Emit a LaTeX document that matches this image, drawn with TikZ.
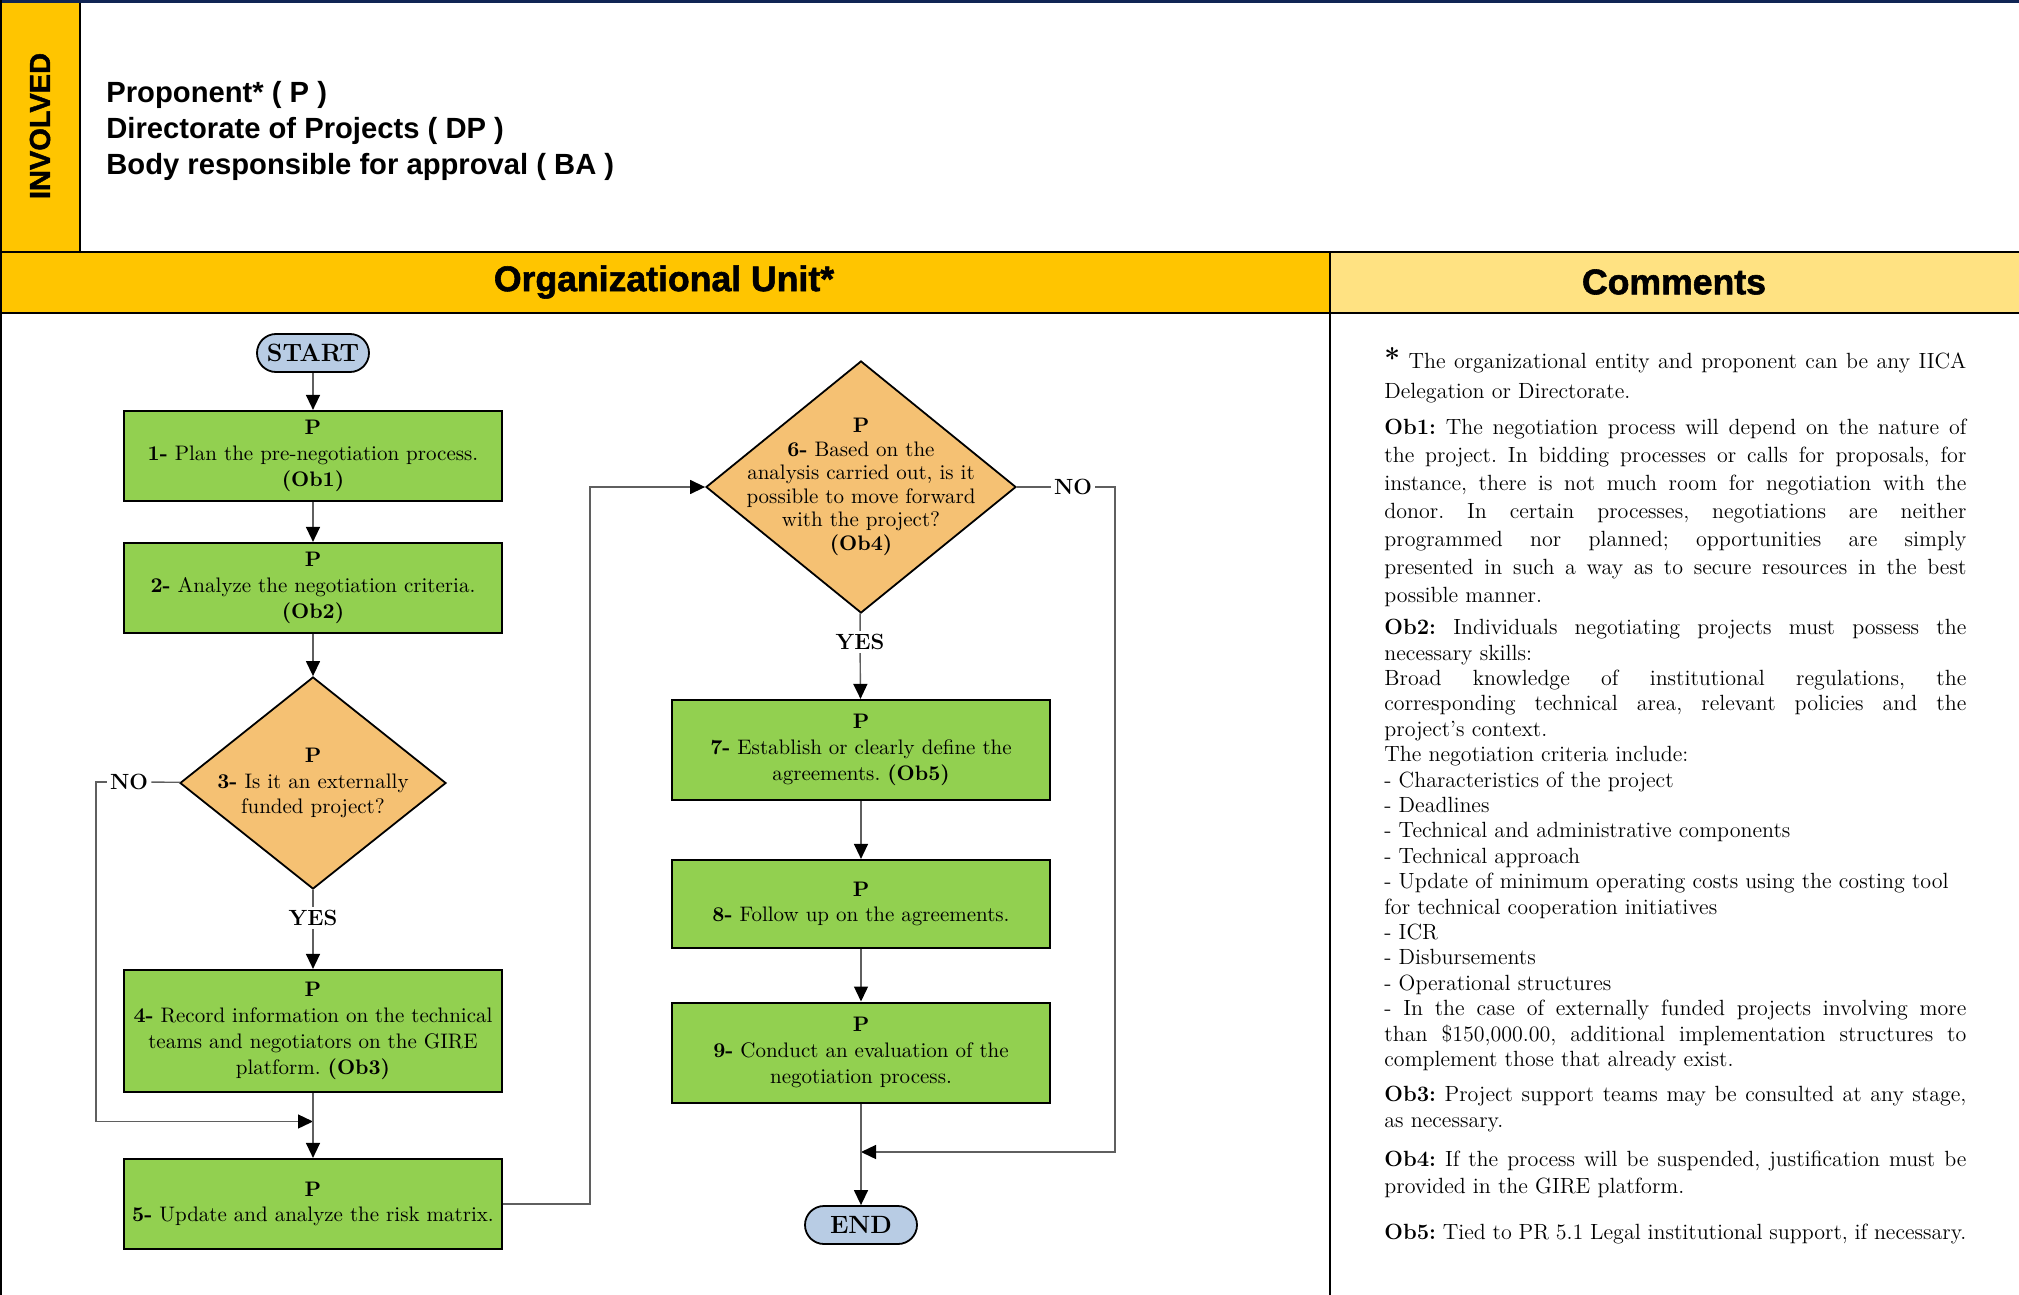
\documentclass[tikz,border=0pt]{standalone}
\usepackage{fontspec}
\newfontfamily\arialfont{Liberation Sans}
\newfontfamily\blackfont{Liberation Sans Bold}[FakeBold=1.6]
\usepackage{xcolor}
\usepackage{tikz}
\usetikzlibrary{arrows.meta}
\usetikzlibrary{shapes.geometric}

\definecolor{boxgreen}{RGB}{146,208,80}
\definecolor{decorange}{RGB}{245,193,115}
\definecolor{termblue}{RGB}{184,204,228}
\definecolor{goldhead}{RGB}{255,197,0}
\definecolor{paleyellow}{RGB}{255,226,130}
\definecolor{navyline}{RGB}{16,37,84}
\definecolor{flowgray}{RGB}{95,95,95}

\newcommand{\boxfont}{\fontsize{10.5}{12.9}\selectfont}
\newcommand{\notefont}[1]{\fontsize{11}{#1}\selectfont}
\frenchspacing

\begin{document}
\begin{tikzpicture}[x=0.5pt,y=-0.5pt,
    stepbox/.style={draw, line width=1.1pt, fill=boxgreen, minimum width=189pt, align=center, font=\boxfont, inner sep=2pt},
    decision/.style={diamond, draw, line width=0.9pt, fill=decorange, inner sep=0pt},
    terminal/.style={draw, line width=0.9pt, fill=termblue, rounded corners=9.5pt, minimum width=56pt, minimum height=19pt, inner sep=0pt, font=\fontsize{12.5}{14}\selectfont\bfseries},
    answer/.style={font=\fontsize{11}{13}\selectfont\bfseries, inner sep=1.5pt},
    link/.style={draw=flowgray, line width=0.7pt},
    flow/.style={link, -{Triangle[length=7.5pt,width=7pt,color=black]}},
    frame/.style={line width=1.1pt},
    note/.style={anchor=north west, inner sep=0pt, text width=291pt, align=justify}]
    \useasboundingbox (0,0) rectangle (2019,1295);

    % header bands
    \fill[goldhead] (0,0) rectangle (80,252);
    \fill[goldhead] (0,252) rectangle (1330,313);
    \fill[paleyellow] (1330,252) rectangle (2019,313);
    \draw[navyline, line width=1.5pt] (0,1.5) -- (2019,1.5);
    \draw[frame] (1,0) -- (1,1295);
    \draw[frame] (80,3) -- (80,252);
    \draw[frame] (0,252) -- (2019,252);
    \draw[frame] (0,313) -- (2019,313);
    \draw[frame] (1330,252) -- (1330,1295);

    \node[rotate=90, font=\blackfont\fontsize{14.5}{16}\selectfont] (involved) at (40,126) {INVOLVED};
    \node[anchor=west, align=left, inner sep=0pt, font=\arialfont\fontsize{14.6}{18}\selectfont\bfseries] (actors) at (106,131)
        {Proponent* ( P )\\Directorate of Projects ( DP )\\Body responsible for approval ( BA )};
    \node[font=\blackfont\fontsize{17.8}{20}\selectfont] (orgunit) at (664,282) {Organizational Unit*};
    \node[font=\blackfont\fontsize{17.8}{20}\selectfont] (comments) at (1674,282) {Comments};

    % left column
    \node[terminal] (start) at (313,353) {START};
    \node[stepbox, minimum height=45pt] (b1) at (313,456) {\textbf{P}\\\textbf{1-} Plan the pre-negotiation process.\\\textbf{(Ob1)}};
    \node[stepbox, minimum height=45pt] (b2) at (313,588) {\textbf{P}\\\textbf{2-} Analyze the negotiation criteria.\\\textbf{(Ob2)}};
    \node[decision, minimum width=133pt, minimum height=106pt,
        label={[font=\boxfont, align=center]center:{\textbf{P}\\\textbf{3-} Is it an externally\\funded project?}}] (d3) at (313,783) {};
    \node[answer] (yes3) at (313,918) {YES};
    \node[answer] (no3) at (129,782) {NO};
    \node[stepbox, minimum height=61pt] (b4) at (313,1031) {\textbf{P}\\\textbf{4-} Record information on the technical\\teams and negotiators on the GIRE\\platform. \textbf{(Ob3)}};
    \node[stepbox, minimum height=45pt] (b5) at (313,1204) {\textbf{P}\\\textbf{5-} Update and analyze the risk matrix.};
    \coordinate (c1) at (96,1121.5);
    \coordinate (m1) at (313,1121.5);
    \coordinate (c2) at (590,487);

    % right column
    \node[decision, minimum width=155pt, minimum height=126pt,
        label={[font=\fontsize{10.5}{11.8}\selectfont, align=center]center:{\textbf{P}\\\textbf{6-} Based on the\\analysis carried out, is it\\possible to move forward\\with the project?\\\textbf{(Ob4)}}}] (d6) at (861,487) {};
    \node[answer] (no6) at (1073,487) {NO};
    \node[answer] (yes6) at (860,642) {YES};
    \node[stepbox, minimum height=50pt] (b7) at (861,750) {\textbf{P}\\\textbf{7-} Establish or clearly define the\\agreements. \textbf{(Ob5)}};
    \node[stepbox, minimum height=44pt] (b8) at (861,904) {\textbf{P}\\\textbf{8-} Follow up on the agreements.};
    \node[stepbox, minimum height=50pt] (b9) at (861,1052.6) {\textbf{P}\\\textbf{9-} Conduct an evaluation of the\\negotiation process.};
    \node[terminal] (end) at (861,1225) {END};
    \coordinate (c3) at (1115,1152);
    \coordinate (m2) at (861,1152);

    \draw[flow] (start) -- (b1);
    \draw[flow] (b1) -- (b2);
    \draw[flow] (b2) -- (d3);
    \draw[link] (d3) -- (yes3);
    \draw[flow] (yes3) -- (b4);
    \draw[link] (d3) -- (no3);
    \draw[flow] (no3) -| (c1) -- (m1);
    \draw[flow] (b4) -- (b5);
    \draw[flow] (b5) -| (c2) -- (d6);
    \draw[link] (d6) -- (no6);
    \draw[flow] (no6) -| (c3) -- (m2);
    \draw[link] (d6) -- (yes6);
    \draw[flow] (yes6) -- (b7);
    \draw[flow] (b7) -- (b8);
    \draw[flow] (b8) -- (b9);
    \draw[flow] (b9) -- (end);

    % comments column
    \node[note, font=\notefont{14.8}] (note0) at (1384,347)
        {{\fontsize{14}{14}\selectfont\textbf{*}} The organizational entity and proponent can be any IICA \linebreak Delegation or Directorate.};
    \node[note, font=\notefont{14}] (note1) at (1384,419)
        {\textbf{Ob1:} The negotiation process will depend on the nature of \linebreak the project. In bidding processes or calls for proposals, for \linebreak instance, there is not much room for negotiation with the \linebreak donor. In certain processes, negotiations are neither \linebreak programmed nor planned; opportunities are simply \linebreak presented in such a way as to secure resources in the best \linebreak possible manner.};
    \node[note, font=\notefont{12.7}] (note2) at (1384,619)
        {\textbf{Ob2:} Individuals negotiating projects must possess the \linebreak necessary skills:\par
        Broad knowledge of institutional regulations, the \linebreak corresponding technical area, relevant policies and the \linebreak project’s context.\par
        The negotiation criteria include:\par
        - Characteristics of the project\par
        - Deadlines\par
        - Technical and administrative components\par
        - Technical approach\par
        - Update of minimum operating costs using the costing tool\newline for technical cooperation initiatives\par
        - ICR\par
        - Disbursements\par
        - Operational structures\par
        - In the case of externally funded projects involving more \linebreak than \$150,000.00, additional implementation structures to \linebreak complement those that already exist.};
    \node[note, font=\notefont{12.9}] (note3) at (1384,1086)
        {\textbf{Ob3:} Project support teams may be consulted at any stage, \linebreak as necessary.};
    \node[note, font=\notefont{13.5}] (note4) at (1384,1150.5)
        {\textbf{Ob4:} If the process will be suspended, justification must be \linebreak provided in the GIRE platform.};
    \node[note, font=\notefont{14}] (note5) at (1384,1224)
        {\textbf{Ob5:} Tied to PR 5.1 Legal institutional support, if necessary.};
\end{tikzpicture}
\end{document}
